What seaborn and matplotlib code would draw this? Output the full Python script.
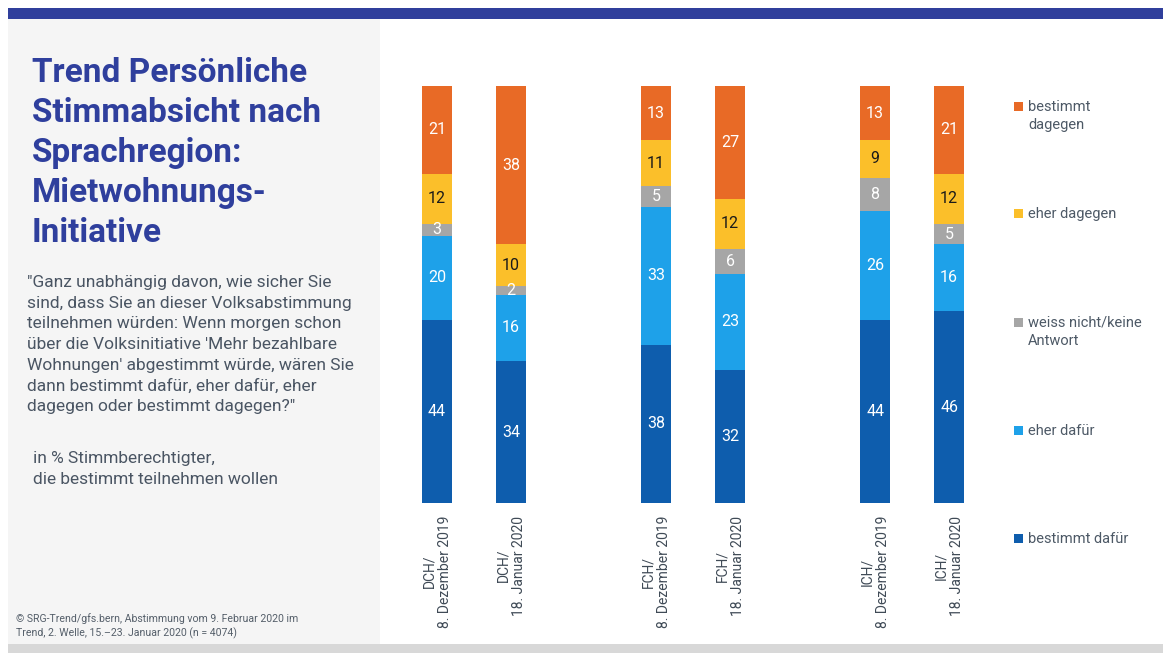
import matplotlib
matplotlib.use("Agg")
import matplotlib.pyplot as plt
from matplotlib.patches import Rectangle
import numpy as np
import pandas as pd
import seaborn as sns

# --- data -----------------------------------------------------------------
periods = [
    "DCH/\n8. Dezember 2019",
    "DCH/\n18. Januar 2020",
    "FCH/\n8. Dezember 2019",
    "FCH/\n18. Januar 2020",
    "ICH/\n8. Dezember 2019",
    "ICH/\n18. Januar 2020",
]
regions = ["DCH", "DCH", "FCH", "FCH", "ICH", "ICH"]

series = [
    "bestimmt dafür",
    "eher dafür",
    "weiss nicht/keine Antwort",
    "eher dagegen",
    "bestimmt dagegen",
]
legend_labels = [
    "bestimmt dafür",
    "eher dafür",
    "weiss nicht/keine\nAntwort",
    "eher dagegen",
    "bestimmt\ndagegen",
]
bestimmt_dafuer = [44, 34, 38, 32, 44, 46]
eher_dafuer = [20, 16, 33, 23, 26, 16]
weiss_nicht = [3, 2, 5, 6, 8, 5]
eher_dagegen = [12, 10, 11, 12, 9, 12]
bestimmt_dagegen = [21, 38, 13, 27, 13, 21]

values = [bestimmt_dafuer, eher_dafuer, weiss_nicht, eher_dagegen, bestimmt_dagegen]
colors = ["#0E5DAD", "#1EA1E9", "#A6A6A6", "#FBBF2A", "#E86A26"]
label_colors = ["white", "white", "white", "#1A1A1A", "white"]

# --- style ----------------------------------------------------------------
sns.set_theme(style="white")
plt.rcParams["font.family"] = ["Roboto", "DejaVu Sans"]

W, H = 1163, 653
fig = plt.figure(figsize=(W / 100, H / 100), dpi=100)
fig.patch.set_facecolor("white")


def fx(x):
    return x / W


def fy(y):
    return 1 - y / H


def frect(x0, y0, x1, y1, color, z=0):
    fig.add_artist(Rectangle((fx(x0), fy(y1)), fx(x1) - fx(x0), fy(y0) - fy(y1),
                             transform=fig.transFigure, facecolor=color,
                             edgecolor="none", zorder=z))


# page furniture
frect(8, 8, W, 19, "#303F9C")
frect(8, 19, 380, 644, "#F5F5F5")
frect(8, 644, W, H, "#D8D8D8")

# --- bars -----------------------------------------------------------------
group_step = 2.96
region_order = list(dict.fromkeys(regions))
pos = []
for i, r in enumerate(regions):
    g = region_order.index(r)
    within = regions[:i].count(r)
    pos.append(g * group_step + within)
pos = np.array(pos)

vals = np.array(values, dtype=float)
cum = np.cumsum(vals, axis=0)

ax = fig.add_axes([fx(390), fy(503), fx(990) - fx(390), fy(86) - fy(503)])
ax.set_facecolor("none")

# draw the cumulative totals from the top segment down, so each shorter bar
# covers the lower part of the one before it
for k in range(len(series) - 1, -1, -1):
    df = pd.DataFrame({"pos": pos, "total": cum[k]})
    sns.barplot(data=df, x="pos", y="total", native_scale=True, width=0.4,
                color=colors[k], saturation=1, linewidth=0, ax=ax, errorbar=None)

for k in range(len(series)):
    for j in range(len(pos)):
        v = vals[k, j]
        ax.text(pos[j], cum[k, j] - v / 2, f"{int(v)}", ha="center", va="center",
                color=label_colors[k], fontsize=11.5)

ax.set_ylim(0, 100)
ax.set_xlim(-47 / 74, 553 / 74)
ax.set_xticks(pos)
ax.set_xticklabels(periods, rotation=90, ha="center", va="top",
                   multialignment="center", fontsize=10, color="#3F4A56")
ax.tick_params(axis="x", length=0, pad=9)
ax.set_yticks([])
ax.set_xlabel("")
ax.set_ylabel("")
for s in ax.spines.values():
    s.set_visible(False)

# --- legend ---------------------------------------------------------------
legend_base = [543, 435, 327, 218, 110.7]
for k in range(len(series)):
    yb = legend_base[k]
    frect(1014, yb - 8.7, 1022.7, yb, colors[k], z=3)
    for li, line in enumerate(legend_labels[k].split("\n")):
        fig.text(fx(1028), fy(yb + 18 * li), line, ha="left", va="baseline",
                 fontsize=10.5, color="#4D5966")

# --- left panel text --------------------------------------------------------
title_lines = ["Trend Persönliche", "Stimmabsicht nach", "Sprachregion:",
               "Mietwohnungs-", "Initiative"]
for i, line in enumerate(title_lines):
    fig.text(fx(32), fy(82 + 40 * i), line, ha="left", va="baseline",
             fontsize=24, fontweight="bold", color="#2F3F9D")

question_lines = [
    "\"Ganz unabhängig davon, wie sicher Sie",
    "sind, dass Sie an dieser Volksabstimmung",
    "teilnehmen würden: Wenn morgen schon",
    "über die Volksinitiative 'Mehr bezahlbare",
    "Wohnungen' abgestimmt würde, wären Sie",
    "dann bestimmt dafür, eher dafür, eher",
    "dagegen oder bestimmt dagegen?\"",
]
for i, line in enumerate(question_lines):
    fig.text(fx(27), fy(287 + 20.7 * i), line, ha="left", va="baseline",
             fontsize=12.5, color="#4A5563")

base_lines = ["in % Stimmberechtigter,", "die bestimmt teilnehmen wollen"]
for i, line in enumerate(base_lines):
    fig.text(fx(33), fy(463 + 20.7 * i), line, ha="left", va="baseline",
             fontsize=12.5, color="#4A5563")

source_lines = ["© SRG-Trend/gfs.bern, Abstimmung vom 9. Februar 2020 im",
                "Trend, 2. Welle, 15.–23. Januar 2020 (n = 4074)"]
for i, line in enumerate(source_lines):
    fig.text(fx(16), fy(622 + 14 * i), line, ha="left", va="baseline",
             fontsize=7.6, color="#555F6A")

fig.savefig("out.png", dpi=100)
